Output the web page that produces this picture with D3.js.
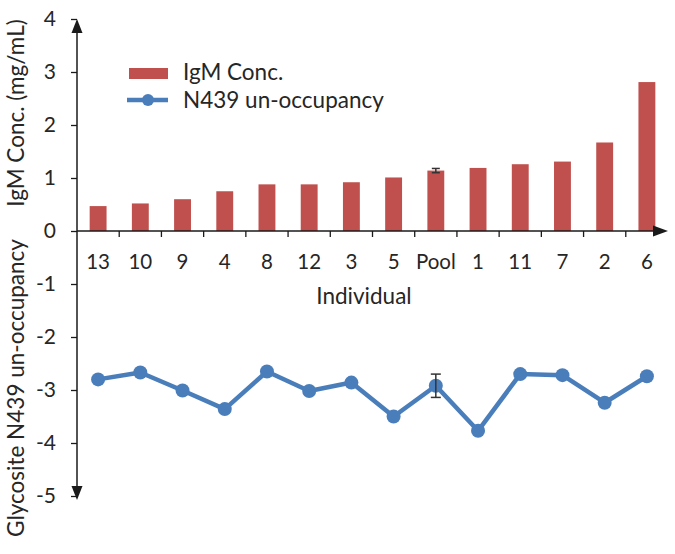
<!DOCTYPE html>
<html><head><meta charset="utf-8">
<script src="https://cdn.jsdelivr.net/npm/d3@7"></script>
<style>body{margin:0;background:#fff}svg{display:block}text{font-family:Lato,"Open Sans",sans-serif;fill:#262626}</style>
</head><body><svg id="c" width="675" height="554"></svg>
<script>
const categories = ["13","10","9","4","8","12","3","5","Pool","1","11","7","2","6"];
const igmConc = [0.47,0.52,0.60,0.75,0.88,0.88,0.92,1.01,1.14,1.19,1.26,1.31,1.67,2.81];
const n439 = [-2.80,-2.67,-3.01,-3.36,-2.65,-3.02,-2.86,-3.50,-2.92,-3.77,-2.70,-2.72,-3.24,-2.74];
const igmErr = {"Pool":0.04};
const n439Err = {"Pool":0.22};
const yTicks = [4,3,2,1,0,-1,-2,-3,-4,-5];
const seriesNames = ["IgM Conc.","N439 un-occupancy"];

const svg = d3.select("#c");
const x0 = 77, x1 = 668;
const x = d3.scaleBand().domain(categories).range([x0,x1]).paddingInner(0.6).paddingOuter(0.3);
const y = d3.scaleLinear().domain([-5,4]).range([496,19]);
const red = "#c0504d", blue = "#4a7ebb", axc = "#1a1a1a";

// bars
svg.append("g").selectAll("rect").data(categories).join("rect")
  .attr("x", d=>x(d)).attr("width", x.bandwidth())
  .attr("y", (d,i)=>y(igmConc[i])).attr("height",(d,i)=>y(0)-y(igmConc[i]))
  .attr("fill", red);

// bar error
categories.forEach((c,i)=>{
  if(igmErr[c]!==undefined){
    const cx = x(c)+x.bandwidth()/2, e=igmErr[c];
    const g = svg.append("g").attr("stroke","#333").attr("stroke-width",1.5);
    g.append("line").attr("x1",cx).attr("x2",cx).attr("y1",y(igmConc[i]+e)).attr("y2",y(igmConc[i]-e));
    g.append("line").attr("x1",cx-4).attr("x2",cx+4).attr("y1",y(igmConc[i]+e)).attr("y2",y(igmConc[i]+e));
    g.append("line").attr("x1",cx-4).attr("x2",cx+4).attr("y1",y(igmConc[i]-e)).attr("y2",y(igmConc[i]-e));
  }
});

// y axis
const yAxis = d3.axisLeft(y).tickValues(yTicks).tickSize(6).tickPadding(15).tickFormat(d3.format("d"));
const ya = svg.append("g").attr("transform",`translate(${x0},0)`).call(yAxis);
ya.select(".domain").remove();
ya.selectAll(".tick line").attr("stroke",axc).attr("stroke-width",1.3);
ya.selectAll(".tick text").attr("font-size",21).attr("font-family","Lato").attr("fill","#262626").text(d=> d<0 ? "-"+Math.abs(d) : d);
svg.append("line").attr("x1",x0).attr("x2",x0).attr("y1",y(4)+12).attr("y2",y(-5)-10).attr("stroke",axc).attr("stroke-width",1.5);
svg.append("path").attr("d",`M${x0},${y(4)} L${x0-5.5},${y(4)+14} L${x0+5.5},${y(4)+14}Z`).attr("fill",axc);
svg.append("path").attr("d",`M${x0},${y(-5)+4} L${x0-5.5},${y(-5)-10} L${x0+5.5},${y(-5)-10}Z`).attr("fill",axc);

// x axis at 0
const y0 = y(0);
svg.append("line").attr("x1",x0).attr("x2",x1-12).attr("y1",y0).attr("y2",y0).attr("stroke",axc).attr("stroke-width",1.5);
svg.append("path").attr("d",`M${x1},${y0} L${x1-15},${y0-5.5} L${x1-15},${y0+5.5}Z`).attr("fill",axc);
const step = x.step();
const bounds = categories.slice(1).map(c=>x(c)-step*x.paddingInner()/2);
svg.append("g").selectAll("line").data(bounds).join("line")
  .attr("x1",d=>d).attr("x2",d=>d).attr("y1",y0).attr("y2",y0+6).attr("stroke",axc).attr("stroke-width",1.3);
svg.append("g").selectAll("text").data(categories).join("text")
  .attr("x",d=>x(d)+x.bandwidth()/2).attr("y",y0+38).attr("text-anchor","middle").attr("font-size",20.5).text(d=>d);
svg.append("text").attr("x",364).attr("y",y0+73).attr("text-anchor","middle").attr("font-size",22.5).text("Individual");

// line series
const line = d3.line().x((d,i)=>x(categories[i])+x.bandwidth()/2).y(d=>y(d));
svg.append("path").datum(n439).attr("d",line).attr("fill","none").attr("stroke",blue).attr("stroke-width",4.5).attr("stroke-linejoin","round");
svg.append("g").selectAll("circle").data(n439).join("circle")
  .attr("cx",(d,i)=>x(categories[i])+x.bandwidth()/2).attr("cy",d=>y(d)).attr("r",7).attr("fill",blue);
categories.forEach((c,i)=>{
  if(n439Err[c]!==undefined){
    const cx = x(c)+x.bandwidth()/2, e=n439Err[c];
    const g = svg.append("g").attr("stroke","#333").attr("stroke-width",1.5);
    g.append("line").attr("x1",cx).attr("x2",cx).attr("y1",y(n439[i]+e)).attr("y2",y(n439[i]-e));
    g.append("line").attr("x1",cx-5).attr("x2",cx+5).attr("y1",y(n439[i]+e)).attr("y2",y(n439[i]+e));
    g.append("line").attr("x1",cx-5).attr("x2",cx+5).attr("y1",y(n439[i]-e)).attr("y2",y(n439[i]-e));
  }
});

// y titles
svg.append("text").attr("transform","translate(24,113) rotate(-90)").attr("text-anchor","middle").attr("font-size",22.5).text("IgM Conc. (mg/mL)");
svg.append("text").attr("transform","translate(24,388) rotate(-90)").attr("text-anchor","middle").attr("font-size",22.5).text("Glycosite N439 un-occupancy");

// legend
const lg = svg.append("g");
lg.append("rect").attr("x",129).attr("y",68).attr("width",39).attr("height",11).attr("fill",red);
lg.append("line").attr("x1",127).attr("x2",168).attr("y1",100).attr("y2",100).attr("stroke",blue).attr("stroke-width",4.5);
lg.append("circle").attr("cx",148).attr("cy",100).attr("r",6).attr("fill",blue);
lg.append("text").attr("x",183).attr("y",80).attr("font-size",22.5).text(seriesNames[0]);
lg.append("text").attr("x",183).attr("y",108).attr("font-size",22.5).text(seriesNames[1]);
</script></body></html>
